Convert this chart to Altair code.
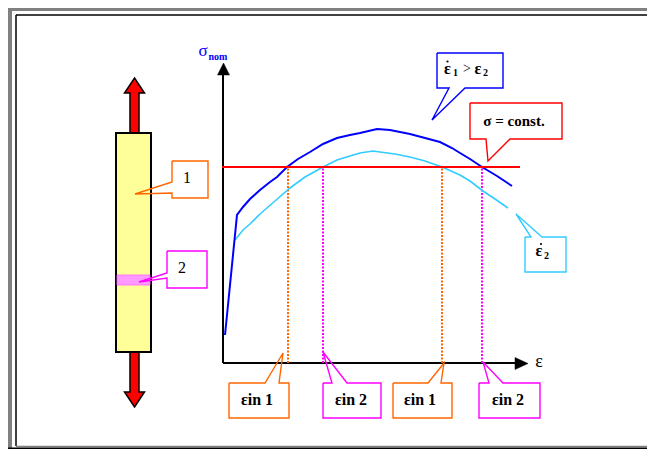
import altair as alt
import pandas as pd

# ---------------- values ----------------
# diagram units: strain (x) and nominal stress (y), arbitrary units
strain_fast = [0.2, 1.4, 2.0, 2.7, 3.7, 4.7, 5.4, 6.4, 7.5, 8.7, 10.0, 11.4, 12.7, 13.7,
               15.4, 16.7, 18.7, 20.2, 21.7, 22.9, 23.7, 24.7, 25.9, 27.4, 28.9]
stress_fast = [2.8, 14.8, 15.6, 16.4, 17.3, 18.1, 18.6, 19.6, 20.4, 21.1, 21.9, 22.5, 22.8, 23.0,
               23.4, 23.3, 22.9, 22.5, 22.1, 21.5, 21.0, 20.4, 19.6, 18.7, 17.7]
strain_slow = [1.2, 2.0, 2.7, 3.7, 5.2, 6.7, 8.2, 10.0, 11.4, 12.7, 13.7, 15.0, 15.7, 17.2,
               18.7, 20.2, 21.9, 23.7, 24.7, 26.0, 27.2, 28.5]
stress_slow = [12.3, 13.3, 13.9, 14.9, 16.2, 17.5, 18.6, 19.6, 20.3, 20.7, 21.0, 21.2, 21.1, 20.9,
               20.6, 20.2, 19.6, 18.8, 18.2, 17.2, 16.4, 15.5]
sigma_const = 19.6
eps_in_strain = [6.5, 10.0, 21.9, 25.9]
eps_in_labels = ["εin 1", "εin 2", "εin 1", "εin 2"]
specimen_labels = ["1", "2"]

# ---------------- styles ----------------
ORANGE = "#FF6600"
MAGENTA = "#FF00FF"
BLUE = "#0000FF"
CYAN = "#33CCFF"
RED = "#FF0000"
GRAY = "#808080"
eps_in_colors = [ORANGE, MAGENTA, ORANGE, MAGENTA]
FONT = "Liberation Serif"


# layout helpers: picture position -> diagram units
def ux(px):
    return (px - 223) / 10.0


def uy(py):
    return (363 - py) / 10.0


W, H = 639, 441   # page is 655x457 with an 8px margin
RIGHT = 8 + W
xs = alt.Scale(domain=[ux(8), ux(8 + W)], nice=False, zero=False)
ys = alt.Scale(domain=[uy(8 + H), uy(8)], nice=False, zero=False)


def X(f="x"):
    return alt.X(f"{f}:Q", scale=xs, axis=None)


def Y(f="y"):
    return alt.Y(f"{f}:Q", scale=ys, axis=None)


# ---------------- frame ----------------
frame_segs = [
    ((8, 9), (RIGHT, 9), GRAY, 4),
    ((10, 7), (10, 451), GRAY, 4),
    ((16, 15), (RIGHT, 15), "black", 1.5),
    ((16, 15), (16, 446), "black", 1.5),
    ((16, 446.5), (RIGHT, 446.5), GRAY, 1.5),
    ((8, 449), (RIGHT, 449), "black", 3),
    # axes
    ((223, 363), (223, 74), "black", 2),
    ((223, 363), (516, 363), "black", 2),
]
frame_df = pd.DataFrame([
    dict(x=ux(a[0]), y=uy(a[1]), x2=ux(b[0]), y2=uy(b[1]), c=c, w=w)
    for a, b, c, w in frame_segs
])
frame = alt.Chart(frame_df).mark_rule(strokeCap="butt").encode(
    x=X(), y=Y(), x2="x2:Q", y2="y2:Q",
    color=alt.Color("c:N", scale=None),
    strokeWidth=alt.StrokeWidth("w:Q", scale=None),
)

# axis arrowheads
up_head = alt.Chart(pd.DataFrame({"x": [ux(223.5)], "y": [uy(69)]})).mark_point(
    shape="M0,-1L1,1L-1,1Z", size=144, filled=True, fill="black", stroke="black",
    strokeWidth=0.5, opacity=1).encode(x=X(), y=Y())
right_head = alt.Chart(pd.DataFrame({"x": [ux(521.5)], "y": [uy(363.5)]})).mark_point(
    shape="M1,0L-1,0.92L-1,-0.92Z", size=169, filled=True, fill="black", stroke="black",
    strokeWidth=0.5, opacity=1).encode(x=X(), y=Y())

# ---------------- specimen ----------------
arrow_up = "M0,-0.917L0.333,-0.417L0.15,-0.417L0.15,0.917L-0.15,0.917L-0.15,-0.417L-0.333,-0.417Z"
arrow_dn = "M0,0.917L0.333,0.417L0.15,0.417L0.15,-0.917L-0.15,-0.917L-0.15,0.417L-0.333,0.417Z"
arr_up = alt.Chart(pd.DataFrame({"x": [ux(134.5)], "y": [uy(105.5)]})).mark_point(
    shape=arrow_up, size=3600, filled=True, fill=RED, stroke="black", strokeWidth=1.5,
    opacity=1).encode(x=X(), y=Y())
arr_dn = alt.Chart(pd.DataFrame({"x": [ux(134.5)], "y": [uy(379.5)]})).mark_point(
    shape=arrow_dn, size=3600, filled=True, fill=RED, stroke="black", strokeWidth=1.5,
    opacity=1).encode(x=X(), y=Y())

bar_df = pd.DataFrame({"x": [ux(116)], "x2": [ux(151)], "y": [uy(133)], "y2": [uy(352)]})
bar = alt.Chart(bar_df).mark_rect(fill="#FFFF99", stroke="black", strokeWidth=2).encode(
    x=X(), x2="x2:Q", y=Y(), y2="y2:Q")
band_df = pd.DataFrame({"x": [ux(117)], "x2": [ux(150)], "y": [uy(275)], "y2": [uy(285)]})
band = alt.Chart(band_df).mark_rect(fill="#FF99FF", stroke="#FF66FF", strokeWidth=0.8).encode(
    x=X(), x2="x2:Q", y=Y(), y2="y2:Q")

# ---------------- callouts (outline polygons) ----------------
callouts = {
    "c1": (ORANGE, [(172, 161), (208, 161), (208, 198), (172, 198), (172, 193), (135, 194), (172, 182)]),
    "c2": (MAGENTA, [(167, 251), (207, 251), (207, 288), (167, 288), (167, 278), (139, 282), (167, 273)]),
    "o1": (ORANGE, [(229, 383), (265, 383), (283, 353), (279, 383), (289, 383), (289, 418), (229, 418)]),
    "m1": (MAGENTA, [(323, 383), (332, 383), (323, 352), (347, 383), (381, 383), (381, 418), (323, 418)]),
    "o2": (ORANGE, [(393, 383), (428, 383), (444, 363), (441, 383), (452, 383), (452, 418), (393, 418)]),
    "m2": (MAGENTA, [(479, 383), (489, 383), (483, 362), (503, 383), (540, 383), (540, 418), (479, 418)]),
    "bl": (BLUE, [(437, 53), (503, 53), (503, 88), (465, 88), (432, 120), (449, 88), (437, 88)]),
    "rd": (RED, [(470, 103), (562, 103), (562, 139), (510, 139), (488, 161), (486, 139), (470, 139)]),
    "cy": (CYAN, [(525, 237), (531, 237), (516, 214), (542, 237), (566, 237), (566, 272), (525, 272)]),
}
rows = []
for k, (col, pts) in callouts.items():
    pts = pts + [pts[0]]
    for i, (px, py) in enumerate(pts):
        rows.append(dict(id=k, i=i, x=ux(px), y=uy(py), c=col))
call_df = pd.DataFrame(rows)
spec_calls = alt.Chart(call_df[call_df.id.isin(["c1", "c2"])]).mark_line(
    strokeWidth=1.4, strokeJoin="miter").encode(
    x=X(), y=Y(), order="i:Q", detail="id:N", color=alt.Color("c:N", scale=None))
other_calls = alt.Chart(call_df[~call_df.id.isin(["c1", "c2"])]).mark_line(
    strokeWidth=1.4, strokeJoin="miter").encode(
    x=X(), y=Y(), order="i:Q", detail="id:N", color=alt.Color("c:N", scale=None))

# ---------------- drop lines ----------------
drop_df = pd.DataFrame({"x": eps_in_strain, "y": [0.0] * 4, "y2": [sigma_const] * 4,
                        "c": eps_in_colors})
drops = alt.Chart(drop_df).mark_rule(strokeWidth=2, strokeDash=[2, 1.5]).encode(
    x=X(), y=Y(), y2="y2:Q", color=alt.Color("c:N", scale=None))

# ---------------- curves ----------------
fast_df = pd.DataFrame({"x": strain_fast, "y": stress_fast})
slow_df = pd.DataFrame({"x": strain_slow, "y": stress_slow})
fast = alt.Chart(fast_df).mark_line(color=BLUE, strokeWidth=2).encode(
    x=X(), y=Y(), order=alt.Order("x:Q"))
slow = alt.Chart(slow_df).mark_line(color=CYAN, strokeWidth=1.6).encode(
    x=X(), y=Y(), order=alt.Order("x:Q"))
red_df = pd.DataFrame({"x": [ux(222)], "x2": [ux(520)], "y": [sigma_const]})
red = alt.Chart(red_df).mark_rule(color=RED, strokeWidth=2).encode(x=X(), x2="x2:Q", y=Y())

# ---------------- texts ----------------
label_pos = [(257, 400), (351, 400), (420, 400), (508, 400)]
bold_rows = [dict(x=ux(px), y=uy(py), t=t, s=16, c="black")
             for (px, py), t in zip(label_pos, eps_in_labels)]
bold_rows += [
    dict(x=ux(514), y=uy(121), t="σ = const.", s=15, c="black"),
    dict(x=ux(447.5), y=uy(69), t="ε", s=16, c="black"),
    dict(x=ux(455.5), y=uy(73), t="1", s=10, c="black"),
    dict(x=ux(478), y=uy(69), t="ε", s=16, c="black"),
    dict(x=ux(485.5), y=uy(73), t="2", s=10, c="black"),
    dict(x=ux(539), y=uy(251), t="ε", s=16, c="black"),
    dict(x=ux(546.5), y=uy(256), t="2", s=10, c="black"),
    dict(x=ux(218), y=uy(57), t="nom", s=10, c=BLUE),
]
bold_txt = alt.Chart(pd.DataFrame(bold_rows)).mark_text(
    font=FONT, fontWeight="bold", align="center", baseline="middle").encode(
    x=X(), y=Y(), text="t:N", size=alt.Size("s:Q", scale=None),
    color=alt.Color("c:N", scale=None))

norm_rows = [
    dict(x=ux(467), y=uy(69), t=">", s=14, c="black"),
    dict(x=ux(539), y=uy(362), t="ε", s=18, c="black"),
    dict(x=ux(187), y=uy(178), t=specimen_labels[0], s=16, c="black"),
    dict(x=ux(182), y=uy(268), t=specimen_labels[1], s=16, c="black"),
    dict(x=ux(203), y=uy(51), t="σ", s=17, c=BLUE),
]
norm_txt = alt.Chart(pd.DataFrame(norm_rows)).mark_text(
    font=FONT, align="center", baseline="middle").encode(
    x=X(), y=Y(), text="t:N", size=alt.Size("s:Q", scale=None),
    color=alt.Color("c:N", scale=None))

dots = alt.Chart(pd.DataFrame({"x": [ux(447.5), ux(541)], "y": [uy(61.5), uy(244)]})).mark_circle(
    size=5, color="black", opacity=1).encode(x=X(), y=Y())

chart = alt.layer(
    frame, arr_up, arr_dn, bar, band, spec_calls, up_head, right_head,
    drops, slow, fast, red, other_calls, bold_txt, norm_txt, dots,
).properties(width=W, height=H, background="white", padding=0,
             autosize=alt.AutoSizeParams(type="none")).configure_view(stroke=None)

chart.save("out.html", embed_options={"renderer": "svg", "actions": False})
